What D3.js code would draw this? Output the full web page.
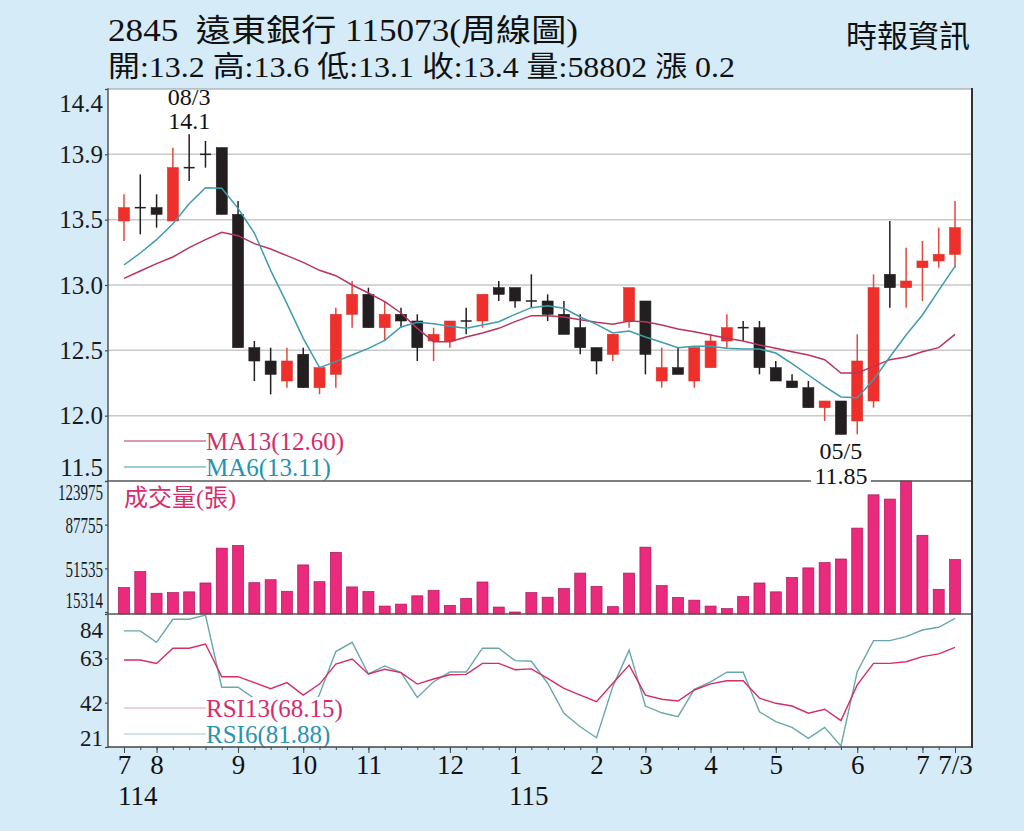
<!DOCTYPE html>
<html>
<head>
<meta charset="utf-8">
<script src="https://cdn.jsdelivr.net/npm/d3@7"></script>
<style>
  body { margin: 0; background: #d5ebf8; }
  svg text { font-family: "Liberation Serif", "Noto Sans CJK TC", serif; }
</style>
</head>
<body>
<svg id="chart" width="1024" height="831"></svg>
<script>
"use strict";

// weekly candles, 2845 遠東銀行 (index 0 = first week on the chart)
const opens  = [13.45, 13.55, 13.55, 13.45, 13.85, 13.95, 14.0, 13.5, 12.5, 12.4, 12.25, 12.45, 12.2, 12.3, 12.75, 12.9, 12.65, 12.75, 12.7, 12.55, 12.55, 12.7, 12.7, 12.95, 12.95, 12.85,
                12.85, 12.75, 12.65, 12.5, 12.45, 12.7, 12.85, 12.25, 12.35, 12.25, 12.35, 12.55, 12.65, 12.65, 12.35, 12.25, 12.2, 12.05, 12.1, 11.95, 12.1, 13.05, 12.95, 13.1, 13.15, 13.2];
const highs  = [13.65, 13.8, 13.65, 14.0, 14.1, 14.05, 14.0, 13.6, 12.55, 12.5, 12.5, 12.5, 12.35, 12.8, 13.0, 12.95, 12.85, 12.8, 12.75, 12.65, 12.7, 12.8, 12.9, 13.0, 12.95, 13.05,
                12.9, 12.85, 12.75, 12.5, 12.6, 12.95, 12.85, 12.5, 12.5, 12.5, 12.6, 12.75, 12.7, 12.7, 12.4, 12.3, 12.25, 12.1, 12.1, 12.6, 13.05, 13.45, 13.25, 13.3, 13.4, 13.6];
const lows   = [13.3, 13.35, 13.4, 13.45, 13.75, 13.85, 13.5, 12.5, 12.25, 12.15, 12.2, 12.2, 12.15, 12.2, 12.65, 12.65, 12.55, 12.65, 12.4, 12.4, 12.5, 12.6, 12.65, 12.85, 12.8, 12.8,
                12.7, 12.6, 12.45, 12.3, 12.4, 12.65, 12.3, 12.2, 12.3, 12.2, 12.35, 12.5, 12.55, 12.3, 12.25, 12.2, 12.05, 11.95, 11.85, 11.85, 12.05, 12.8, 12.8, 12.85, 13.1, 13.1];
const closes = [13.55, 13.55, 13.5, 13.85, 13.85, 13.95, 13.5, 12.5, 12.4, 12.3, 12.4, 12.2, 12.35, 12.75, 12.9, 12.65, 12.75, 12.7, 12.5, 12.6, 12.7, 12.7, 12.9, 12.9, 12.85, 12.85,
                12.75, 12.6, 12.5, 12.4, 12.6, 12.95, 12.45, 12.35, 12.3, 12.5, 12.55, 12.65, 12.65, 12.35, 12.25, 12.2, 12.05, 12.1, 11.85, 12.4, 12.95, 12.95, 13.0, 13.15, 13.2, 13.4];
const volumes = [35540, 48880, 30870, 31440, 32020, 39390, 68290, 70500, 39630, 42090, 32510, 54370, 40450, 64770, 36110, 32260, 20230, 21860, 28740, 33330, 20800, 26530, 40200, 19410, 15314, 31440,
                 27600, 34720, 47570, 36600, 19740, 47570, 69110, 37180, 27350, 25140, 20230, 18100, 28170, 39390, 32020, 43970, 51910, 56250, 59280, 84910, 112510, 108990, 123975, 78930, 34150, 58802];
const ma13 = [13.02, 13.075, 13.13, 13.18, 13.25, 13.31, 13.365, 13.34, 13.28, 13.24, 13.19, 13.14, 13.08, 13.04, 12.97, 12.91, 12.845, 12.76, 12.645, 12.545, 12.545, 12.58, 12.61, 12.645, 12.695, 12.74,
              12.74, 12.73, 12.71, 12.69, 12.675, 12.70, 12.695, 12.67, 12.64, 12.62, 12.595, 12.57, 12.55, 12.52, 12.495, 12.47, 12.445, 12.41, 12.31, 12.31, 12.36, 12.41, 12.43, 12.47, 12.50, 12.60];
const ma6 = [13.12, 13.21, 13.31, 13.43, 13.58, 13.70, 13.695, 13.545, 13.36, 13.08, 12.83, 12.57, 12.35, 12.395, 12.445, 12.495, 12.555, 12.655, 12.69, 12.68, 12.66, 12.645, 12.67, 12.695, 12.75, 12.80,
             12.815, 12.795, 12.73, 12.675, 12.61, 12.625, 12.58, 12.54, 12.50, 12.51, 12.51, 12.495, 12.49, 12.49, 12.46, 12.38, 12.295, 12.21, 12.13, 12.125, 12.26, 12.43, 12.595, 12.745, 12.93, 13.11];
const rsi13 = [62.2, 62.2, 60.6, 67.8, 67.8, 69.8, 54.3, 54.3, 51.5, 48.6, 51.5, 45.6, 50.8, 60.3, 62.7, 55.6, 57.8, 56.2, 50.8, 53.2, 55.2, 55.4, 60.6, 60.6, 57.6, 58.0,
               53.5, 48.8, 45.6, 42.5, 51.2, 59.8, 45.6, 43.6, 42.8, 48.0, 50.9, 52.4, 52.4, 44.1, 41.7, 40.4, 37.0, 38.9, 33.5, 50.4, 60.6, 60.6, 61.4, 63.8, 65.1, 68.15];
const rsi6 = [76.0, 76.0, 70.6, 81.5, 81.5, 83.5, 49.3, 49.3, 44, 36, 40, 31, 46, 66.2, 70.6, 55.6, 59.4, 56.2, 44.5, 51.9, 56.5, 56.5, 67.8, 67.8, 61.9, 61.6,
              51.2, 37.0, 30.6, 25.4, 49.6, 66.9, 40.4, 37.2, 35.4, 48.3, 51.9, 56.4, 56.4, 37.7, 33.0, 30.3, 25.1, 30.3, 21.5, 56.7, 71.4, 71.4, 73.3, 76.4, 77.7, 81.88];

// axis labels
const monthTickIdx = [0, 2, 7, 11, 15, 20, 24, 29, 32, 36, 40, 45, 49, 51];
const monthTickLabels = ["7", "8", "9", "10", "11", "12", "1", "2", "3", "4", "5", "6", "7", "7/3"];
const yearTickIdx = [0, 24];
const yearTickLabels = ["114", "115"];

const priceDomain = [11.5, 14.44];
const priceTickLabels = ["11.5", "12.0", "12.5", "13.0", "13.5", "13.9", "14.4"];
const volDomain = [15314, 123975];
const volTickLabels = ["15314", "51535", "87755", "123975"];
const rsiDomain = [21, 84];
const rsiTickLabels = ["21", "42", "63", "84"];

const highMark = {idx: 4, date: "08/3", text: "14.1"};
const lowMark = {idx: 44, date: "05/5", text: "11.85"};

const titleText = "2845  遠東銀行 115073(周線圖)";
const quoteText = "開:13.2 高:13.6 低:13.1 收:13.4 量:58802 漲 0.2";
const sourceText = "時報資訊";

// layout
const plot = {left: 108, right: 972, top: 89, priceBottom: 481, volBottom: 614, bottom: 747};
const crimson = "#b8345f", teal = "#3d9cad", red = "#ee2f2b", dark = "#231f20";

const svg = d3.select("#chart");

const x = d3.scaleLinear().domain([0, opens.length - 1]).range([124, 955]);
const yPrice = d3.scaleLinear().domain(priceDomain).range([plot.priceBottom, plot.top]);
const yVol = d3.scaleLinear().domain(volDomain).range([plot.volBottom - 2, plot.priceBottom]);
const yRsi = d3.scaleLinear().domain(rsiDomain).range([plot.bottom, plot.volBottom]);

function styleAxis(g, size, topShift, bottomShift, squeeze) {
  g.attr("font-family", null).attr("font-size", size);
  g.select(".domain").remove();
  g.selectAll("line").attr("stroke", "#444").attr("stroke-width", 1.2);
  g.selectAll("text").attr("fill", "#1a1a1a");
  const texts = g.selectAll("text").nodes();
  d3.select(texts[0]).attr("y", bottomShift);
  d3.select(texts[texts.length - 1]).attr("y", topShift);
  if (squeeze) {
    g.selectAll("text").each(function() {
      const t = d3.select(this);
      t.attr("textLength", t.text().length * squeeze).attr("lengthAdjust", "spacingAndGlyphs");
    });
  }
}

function drawFrame() {
  svg.append("rect")
    .attr("x", plot.left).attr("y", plot.top)
    .attr("width", plot.right - plot.left).attr("height", plot.bottom - plot.top)
    .attr("fill", "#fff");

  // price grid lines, equally spaced over the panel
  const gridTicks = d3.range(1, 6).map(i => priceDomain[0] + i * (priceDomain[1] - priceDomain[0]) / 6);
  svg.append("g").selectAll("line")
    .data(gridTicks)
    .join("line")
      .attr("x1", plot.left).attr("x2", plot.right)
      .attr("y1", d => yPrice(d)).attr("y2", d => yPrice(d))
      .attr("stroke", "#c9c9c9").attr("stroke-width", 1.5);
}

function drawPricePanel() {
  const g = svg.append("g");
  const idx = d3.range(opens.length);

  // wicks
  g.selectAll("line.wick")
    .data(idx)
    .join("line")
      .attr("class", "wick")
      .attr("x1", i => x(i)).attr("x2", i => x(i))
      .attr("y1", i => yPrice(highs[i])).attr("y2", i => yPrice(lows[i]))
      .attr("stroke", i => closes[i] > opens[i] ? "#e2483c" : dark)
      .attr("stroke-width", 1.5);

  // bodies
  g.selectAll("rect.body")
    .data(idx.filter(i => closes[i] !== opens[i]))
    .join("rect")
      .attr("class", "body")
      .attr("x", i => x(i) - 5.5)
      .attr("width", 11)
      .attr("y", i => yPrice(Math.max(opens[i], closes[i])))
      .attr("height", i => Math.abs(yPrice(opens[i]) - yPrice(closes[i])))
      .attr("fill", i => closes[i] > opens[i] ? red : dark)
      .attr("stroke", i => closes[i] > opens[i] ? "#d8392e" : dark)
      .attr("stroke-width", 0.6);

  // doji crosses
  g.selectAll("line.doji")
    .data(idx.filter(i => closes[i] === opens[i]))
    .join("line")
      .attr("class", "doji")
      .attr("x1", i => x(i) - 5.5).attr("x2", i => x(i) + 5.5)
      .attr("y1", i => yPrice(opens[i])).attr("y2", i => yPrice(opens[i]))
      .attr("stroke", dark).attr("stroke-width", 1.5);

  const line = d3.line().x((d, i) => x(i)).y(d => yPrice(d));
  g.append("path").attr("d", line(ma13)).attr("fill", "none").attr("stroke", crimson).attr("stroke-width", 1.5);
  g.append("path").attr("d", line(ma6)).attr("fill", "none").attr("stroke", teal).attr("stroke-width", 1.5);

  // high / low notes
  g.append("text").attr("x", x(highMark.idx)).attr("y", yPrice(highs[highMark.idx]) - 29)
    .attr("text-anchor", "middle").attr("font-size", 24).attr("fill", "#111").text(highMark.date);
  g.append("text").attr("x", x(highMark.idx)).attr("y", yPrice(highs[highMark.idx]) - 5)
    .attr("text-anchor", "middle").attr("font-size", 24).attr("fill", "#111").text(highMark.text);

  g.append("text").attr("x", x(lowMark.idx)).attr("y", yPrice(lows[lowMark.idx]) + 25)
    .attr("text-anchor", "middle").attr("font-size", 24).attr("fill", "#111").text(lowMark.date);

  // legend
  const legend = [{label: "MA13(12.60)", color: crimson, text: "#d12f6a", y: 441},
                  {label: "MA6(13.11)", color: teal, text: "#2493b3", y: 467}];
  legend.forEach(l => {
    g.append("line").attr("x1", 124).attr("x2", 206).attr("y1", l.y).attr("y2", l.y)
      .attr("stroke", l.color).attr("stroke-width", 1.2);
    g.append("text").attr("x", 206).attr("y", l.y).attr("dy", "0.34em")
      .attr("font-size", 25).attr("fill", l.text).text(l.label);
  });

  svg.append("g")
    .attr("transform", `translate(${plot.left},0)`)
    .call(d3.axisLeft(yPrice)
      .tickValues(d3.range(7).map(i => priceDomain[0] + i * (priceDomain[1] - priceDomain[0]) / 6))
      .tickSize(3).tickPadding(2)
      .tickFormat((d, i) => priceTickLabels[i]))
    .call(g => styleAxis(g, 25, 14, -14));
}

function drawVolumePanel() {
  const g = svg.append("g");
  g.selectAll("rect")
    .data(volumes)
    .join("rect")
      .attr("x", (d, i) => x(i) - 5.5)
      .attr("width", 11)
      .attr("y", d => yVol(d))
      .attr("height", d => plot.volBottom - yVol(d))
      .attr("fill", "#ea2a7c")
      .attr("stroke", "#a8185a")
      .attr("stroke-width", 0.7);

  g.append("text").attr("x", 124).attr("y", 506)
    .attr("font-size", 24).attr("fill", "#d62e6c").text("成交量(張)");

  svg.append("g")
    .attr("transform", `translate(${plot.left},0)`)
    .call(d3.axisLeft(yVol)
      .tickValues(d3.range(4).map(i => volDomain[0] + i * (volDomain[1] - volDomain[0]) / 3))
      .tickSize(3).tickPadding(2)
      .tickFormat((d, i) => volTickLabels[i]))
    .call(g => styleAxis(g, 24, 11, -12, 7.5));
}

function drawRsiPanel() {
  const g = svg.append("g");
  const line = d3.line().x((d, i) => x(i)).y(d => yRsi(d));
  g.append("path").attr("d", line(rsi6)).attr("fill", "none").attr("stroke", "#6aa6ae").attr("stroke-width", 1.4);
  g.append("path").attr("d", line(rsi13)).attr("fill", "none").attr("stroke", "#d42d68").attr("stroke-width", 1.4);

  // legend box hides the lines under it
  g.append("rect").attr("x", 118).attr("y", 697).attr("width", 232).attr("height", 49).attr("fill", "#fff");
  const legend = [{label: "RSI13(68.15)", color: "#e3a0b4", text: "#d72c6c", y: 708},
                  {label: "RSI6(81.88)", color: "#a9c6cc", text: "#2a95b0", y: 734}];
  legend.forEach(l => {
    g.append("line").attr("x1", 124).attr("x2", 206).attr("y1", l.y).attr("y2", l.y)
      .attr("stroke", l.color).attr("stroke-width", 1.2);
    g.append("text").attr("x", 206).attr("y", l.y).attr("dy", "0.34em")
      .attr("font-size", 25).attr("fill", l.text).text(l.label);
  });

  svg.append("g")
    .attr("transform", `translate(${plot.left},0)`)
    .call(d3.axisLeft(yRsi)
      .tickValues(d3.range(4).map(i => rsiDomain[0] + i * (rsiDomain[1] - rsiDomain[0]) / 3))
      .tickSize(3).tickPadding(2)
      .tickFormat((d, i) => rsiTickLabels[i]))
    .call(g => styleAxis(g, 23, 16, -9));
}

function drawBorders() {
  const g = svg.append("g").attr("stroke-linecap", "square");
  g.append("line").attr("x1", plot.left).attr("x2", plot.right).attr("y1", plot.top).attr("y2", plot.top)
    .attr("stroke", "#9a9a9a").attr("stroke-width", 1);
  [plot.priceBottom, plot.volBottom].forEach(y => {
    g.append("line").attr("x1", plot.left).attr("x2", plot.right).attr("y1", y).attr("y2", y)
      .attr("stroke", "#555").attr("stroke-width", 1.5);
  });
  g.append("line").attr("x1", plot.left).attr("x2", plot.left).attr("y1", plot.top).attr("y2", plot.bottom)
    .attr("stroke", "#555").attr("stroke-width", 1.5);
  g.append("line").attr("x1", plot.right).attr("x2", plot.right).attr("y1", plot.top).attr("y2", plot.bottom)
    .attr("stroke", "#333").attr("stroke-width", 2);

  // low value sits on the panel line with a white patch
  const lx = x(lowMark.idx);
  svg.append("rect").attr("x", lx - 30).attr("y", plot.priceBottom - 14).attr("width", 60).attr("height", 22).attr("fill", "#fff");
  svg.append("text").attr("x", lx).attr("y", yPrice(lows[lowMark.idx]) + 50)
    .attr("text-anchor", "middle").attr("font-size", 24).attr("fill", "#111").text(lowMark.text);
}

function drawXAxis() {
  const axis = d3.axisBottom(x)
    .tickValues(d3.range(opens.length))
    .tickSize(3)
    .tickFormat("");
  const g = svg.append("g").attr("transform", `translate(0,${plot.bottom})`).call(axis);
  g.select(".domain").remove();
  g.selectAll("line").attr("stroke", "#444");
  svg.append("line").attr("x1", plot.left).attr("x2", plot.right).attr("y1", plot.bottom).attr("y2", plot.bottom)
    .attr("stroke", "#444").attr("stroke-width", 1.5);

  const months = svg.append("g").attr("transform", `translate(0,${plot.bottom})`)
    .call(d3.axisBottom(x).tickValues(monthTickIdx).tickSize(6).tickPadding(2)
      .tickFormat((d, i) => monthTickLabels[i]));
  months.attr("font-family", null).attr("font-size", 27);
  months.select(".domain").remove();
  months.selectAll("line").attr("stroke", "#444");
  months.selectAll("text").attr("fill", "#111");

  svg.append("g").selectAll("text")
    .data(yearTickIdx)
    .join("text")
      .attr("x", d => x(d) - 6)
      .attr("y", 805)
      .attr("font-size", 27)
      .attr("fill", "#111")
      .text((d, i) => yearTickLabels[i]);
}

function drawHeader() {
  svg.append("text").attr("x", 108).attr("y", 41)
    .attr("font-size", 31).attr("fill", "#111")
    .style("white-space", "pre")
    .attr("textLength", 470).attr("lengthAdjust", "spacingAndGlyphs")
    .text(titleText);
  svg.append("text").attr("x", 108).attr("y", 77)
    .attr("font-size", 29).attr("fill", "#111")
    .attr("textLength", 627).attr("lengthAdjust", "spacingAndGlyphs")
    .text(quoteText);
  svg.append("text").attr("x", 970).attr("y", 47)
    .attr("text-anchor", "end")
    .attr("font-size", 31).attr("fill", "#111")
    .text(sourceText);
}

drawFrame();
drawVolumePanel();
drawPricePanel();
drawRsiPanel();
drawBorders();
drawXAxis();
drawHeader();
</script>
</body>
</html>
